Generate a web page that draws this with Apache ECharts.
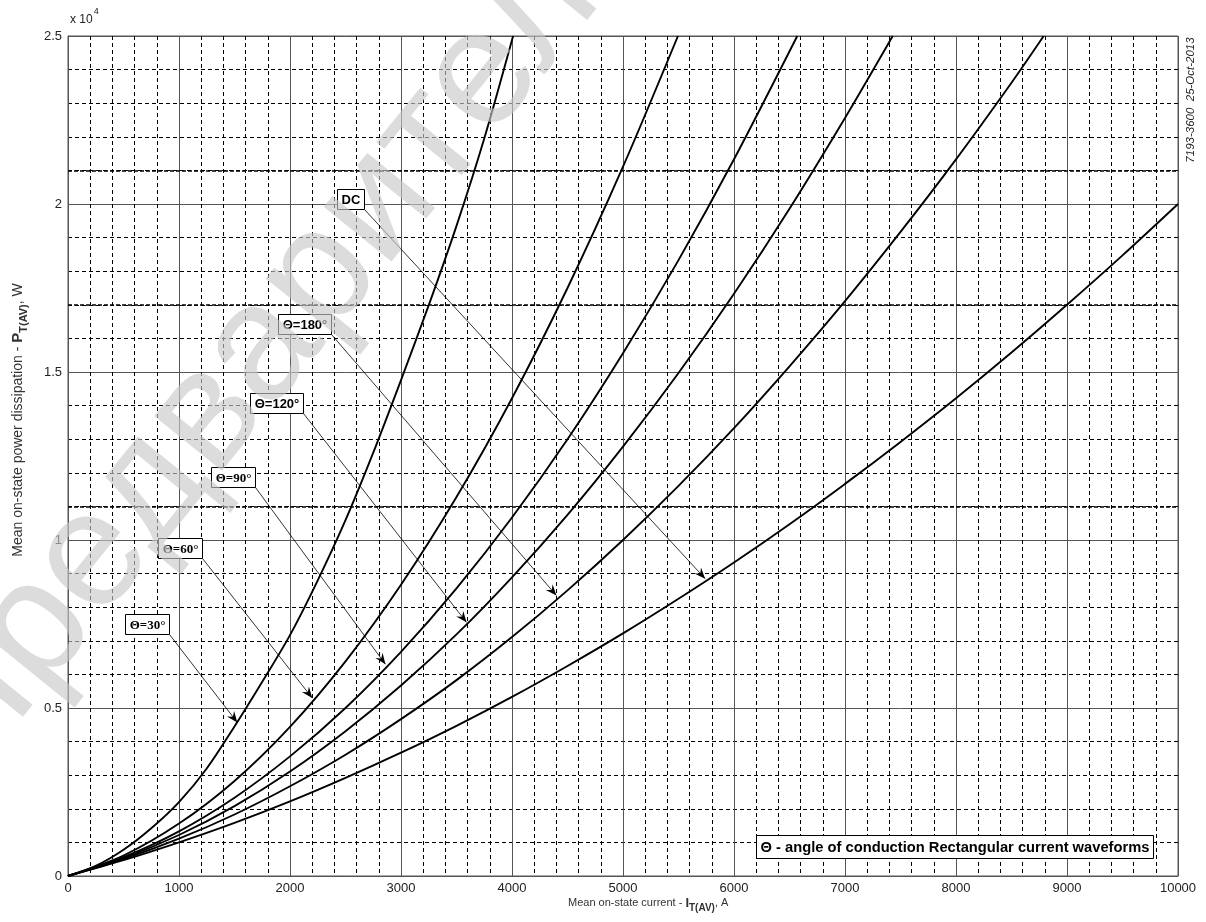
<!DOCTYPE html>
<html><head><meta charset="utf-8">
<script src="https://cdn.jsdelivr.net/npm/echarts/dist/echarts.min.js"></script>
<style>html,body{margin:0;padding:0;background:#fff}#c{width:1206px;height:922px}</style>
</head><body><div id="c"></div>
<script>
// ---- data ----
const currentDC   = [0,500,1000,1500,2000,2500,3000,3500,4000,4500,5000,5500,6000,6500,7000,7500,8000,8500,9000,9500,10000];
const powerDC     = [0,470,1000,1580,2220,2920,3670,4470,5330,6250,7220,8250,9330,10470,11670,12920,14220,15580,17000,18470,20000];
const current180  = [0,500,1000,1500,2000,2500,3000,3500,4000,4500,5000,5500,6000,6500,7000,7500,8000,8500,8790];
const power180    = [0,500,1110,1830,2670,3610,4670,5830,7110,8500,10000,11610,13330,15170,17110,19170,21330,23610,25000];
const current120  = [0,500,1000,1500,2000,2500,3000,3500,4000,4500,5000,5500,6000,6500,7000,7430];
const power120    = [0,530,1220,2080,3110,4310,5670,7190,8890,10750,12780,14970,17330,19860,22560,25000];
const current90   = [0,500,1000,1500,2000,2500,3000,3500,4000,4500,5000,5500,6000,6570];
const power90     = [0,560,1330,2330,3560,5000,6670,8560,10670,13000,15560,18330,21330,25000];
const current60   = [0,500,1000,1500,2000,2500,3000,3500,4000,4500,5000,5495];
const power60     = [0,610,1560,2830,4440,6390,8670,11280,14220,17500,21110,25000];
const current30   = [0,250,500,750,1000,1250,1500,1750,2000,2250,2500,2750,3000,3250,3500,3750,4010];
const power30     = [0,300,780,1420,2200,3200,4450,5780,7170,8800,10590,12600,14760,16990,19350,21950,25000];

const seriesNames = ['DC','Θ=180°','Θ=120°','Θ=90°','Θ=60°','Θ=30°'];
const xTicks = [0,1000,2000,3000,4000,5000,6000,7000,8000,9000,10000];
const yTickLabels = ['0','0.5','1','1.5','2','2.5'];
const heavyGridLevels = [11000,17000,21000];

// annotation labels: box corner (bottom-right) and arrow tip, in data units
const annotationText   = ['DC','Θ=180°','Θ=120°','Θ=90°','Θ=60°','Θ=30°'];
const annotationCorner = [[2667,19857],[2369,16141],[2117,13793],[1685,11564],[1207,9453],[910,7194]];
const annotationTip    = [[5740,8850],[4400,8350],[3590,7550],[2860,6300],[2200,5300],[1525,4570]];
const annotationSerif  = [false,false,false,true,true,true];

const legendNote = 'Θ - angle of conduction Rectangular current waveforms';
const stampText = '7193-3600  25-Oct-2013';
const watermarkText = 'Предварительно';

// ---- chart ----
const curves = [
  [currentDC, powerDC],[current180, power180],[current120, power120],
  [current90, power90],[current60, power60],[current30, power30]
];
const pairs = (xs, ys) => xs.map((x, i) => [x, ys[i]]);
const SANS = 'Liberation Sans, Arial, sans-serif';
const SERIF = 'Liberation Serif, Times New Roman, serif';

const chart = echarts.init(document.getElementById('c'), null, {renderer: 'canvas'});
const series = curves.map((c, i) => ({
  name: seriesNames[i], type: 'line', data: pairs(c[0], c[1]),
  showSymbol: false, smooth: 0.3, animation: false, z: 5,
  lineStyle: {color: '#000', width: 1.9}
}));
series[0].markLine = {
  silent: true, symbol: 'none', animation: false, label: {show: false},
  lineStyle: {color: '#000', type: [4, 2], width: 1.6},
  data: heavyGridLevels.map(v => ({yAxis: v}))
};
chart.setOption({
  animation: false,
  backgroundColor: '#fff',
  grid: {left: 68, right: 28, top: 36, bottom: 46, show: true, borderColor: '#555', borderWidth: 1},
  xAxis: {
    type: 'value', min: 0, max: 10000, interval: 1000,
    axisLine: {show: true, lineStyle: {color: '#555'}},
    axisTick: {show: false},
    axisLabel: {color: '#222', fontSize: 13, fontFamily: SANS, margin: 6,
      formatter: v => xTicks.includes(v) ? String(v) : ''},
    splitLine: {show: true, lineStyle: {color: '#555', width: 1}},
    minorTick: {show: false, splitNumber: 5},
    minorSplitLine: {show: true, lineStyle: {color: '#000', width: 1, type: [4, 3]}}
  },
  yAxis: {
    type: 'value', min: 0, max: 25000, interval: 5000,
    axisLine: {show: true, lineStyle: {color: '#555'}},
    axisTick: {show: false},
    axisLabel: {color: '#222', fontSize: 13, fontFamily: SANS, margin: 6,
      formatter: v => yTickLabels[Math.round(v / 5000)]},
    splitLine: {show: true, lineStyle: {color: '#555', width: 1}},
    minorTick: {show: false, splitNumber: 5},
    minorSplitLine: {show: true, lineStyle: {color: '#000', width: 1, type: [4, 3]}}
  },
  series: series
});

// ---- annotations, titles, watermark ----
const ctx = document.createElement('canvas').getContext('2d');
const tw = (t, f) => { ctx.font = f; return ctx.measureText(t).width; };
const toPx = p => chart.convertToPixel({xAxisIndex: 0, yAxisIndex: 0}, p);
const g = [];

annotationText.forEach((t, i) => {
  const font = 'bold 13px ' + (annotationSerif[i] ? SERIF : SANS);
  const w = Math.round(tw(t, font) + 8), h = 20;
  const c = toPx(annotationCorner[i]), tip = toPx(annotationTip[i]);
  const x0 = Math.round(c[0]) + 0.5, y0 = Math.round(c[1]) + 0.5;
  g.push({type: 'line', z: 50, silent: true,
    shape: {x1: x0, y1: y0, x2: tip[0], y2: tip[1]},
    style: {stroke: '#000', lineWidth: 0.8}});
  const ang = Math.atan2(tip[1] - y0, tip[0] - x0);
  const L = 11, W = 4.5, ca = Math.cos(ang), sa = Math.sin(ang);
  const pt = (a, b) => [tip[0] + a * ca - b * sa, tip[1] + a * sa + b * ca];
  g.push({type: 'polygon', z: 51, silent: true,
    shape: {points: [pt(0, 0), pt(-L, W), pt(-L * 0.65, 0), pt(-L, -W)]},
    style: {fill: '#000'}});
  g.push({type: 'rect', z: 52, silent: true,
    shape: {x: x0 - w, y: y0 - h, width: w, height: h},
    style: {fill: '#fff', stroke: '#000', lineWidth: 1}});
  g.push({type: 'text', z: 53, silent: true, x: x0 - w / 2, y: y0 - h / 2 + 1,
    style: {text: t, font: font, fill: '#000', textAlign: 'center', textVerticalAlign: 'middle'}});
});

// legend note box (text fitted to the box width)
{
  const xl = 756.5, xr = 1153.5, yb = 858.5, h = 23;
  const fs = 100 * (xr - xl - 8) / tw(legendNote, 'bold 100px ' + SANS);
  const font = 'bold ' + fs.toFixed(2) + 'px ' + SANS;
  g.push({type: 'rect', z: 52, silent: true, shape: {x: xl, y: yb - h, width: xr - xl, height: h},
    style: {fill: '#fff', stroke: '#000', lineWidth: 1}});
  g.push({type: 'text', z: 53, silent: true, x: (xl + xr) / 2, y: yb - h / 2 + 1,
    style: {text: legendNote, font: font, fill: '#000', textAlign: 'center', textVerticalAlign: 'middle'}});
}

// multi-part title helper (main text + bold symbol + subscript)
function titleParts(parts) {
  let x = 0; const kids = [];
  parts.forEach(p => {
    kids.push({type: 'text', x: x, y: p.dy || 0,
      style: {text: p.t, font: p.f, fill: '#333', textVerticalAlign: 'middle'}});
    x += tw(p.t, p.f);
  });
  return {kids, width: x};
}
{
  const fMain = '11px ' + SANS, fSym = 'bold 13px ' + SANS, fSub = 'bold 10px ' + SANS;
  const tp = titleParts([{t: 'Mean on-state current - ', f: fMain}, {t: 'I', f: fSym},
    {t: 'T(AV)', f: fSub, dy: 5}, {t: ', A', f: fMain}]);
  g.push({type: 'group', x: 568, y: 903, children: tp.kids, silent: true});
}
{
  const fMain = '14px ' + SANS, fSym = 'bold 15px ' + SANS, fSub = 'bold 11px ' + SANS;
  const tp = titleParts([{t: 'Mean on-state power dissipation - ', f: fMain}, {t: 'P', f: fSym},
    {t: 'T(AV)', f: fSub, dy: 6}, {t: ', W', f: fMain}]);
  g.push({type: 'group', x: 18, y: 420 + tp.width / 2, rotation: Math.PI / 2, children: tp.kids, silent: true});
}
// x 10^4
g.push({type: 'text', x: 70, y: 20, silent: true,
  style: {text: 'x 10', font: '12px ' + SANS, fill: '#222', textVerticalAlign: 'middle'}});
g.push({type: 'text', x: 70 + tw('x 10', '12px ' + SANS) + 1, y: 12, silent: true,
  style: {text: '4', font: '9px ' + SANS, fill: '#222', textVerticalAlign: 'middle'}});
// stamp
g.push({type: 'text', x: 1191, y: 100, rotation: Math.PI / 2, silent: true,
  style: {text: stampText, font: 'italic 11.5px ' + SANS, fill: '#222', textAlign: 'center', textVerticalAlign: 'middle'}});
// watermark
g.push({type: 'text', x: -69, y: 758, rotation: 51 * Math.PI / 180, z: 200, silent: true,
  style: {text: watermarkText, font: '165px ' + SANS, fill: 'rgba(200,200,200,0.64)', textVerticalAlign: 'middle'}});

chart.setOption({graphic: g});
</script>
</body></html>
